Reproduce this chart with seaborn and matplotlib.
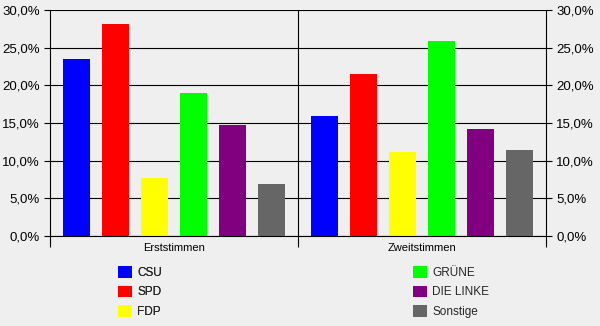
import matplotlib
matplotlib.use("Agg")
import matplotlib.pyplot as plt
import matplotlib.ticker as mticker
from matplotlib.patches import Patch
import seaborn as sns
import pandas as pd

groups = ["Erststimmen", "Zweitstimmen"]
parties = ["CSU", "SPD", "FDP", "GRÜNE", "DIE LINKE", "Sonstige"]
erststimmen = [23.5, 28.1, 7.7, 19.0, 14.7, 6.9]
zweitstimmen = [15.9, 21.5, 11.1, 25.9, 14.2, 11.4]
colors = ["#0000FF", "#FF0000", "#FFFF00", "#00FF00", "#800080", "#666666"]
yticks = [0, 5, 10, 15, 20, 25, 30]

df = pd.DataFrame({
    "Stimme": [groups[0]] * len(parties) + [groups[1]] * len(parties),
    "Partei": parties + parties,
    "Wert": erststimmen + zweitstimmen,
})

sns.set_style("white")
plt.rcParams["font.family"] = ["Liberation Sans", "DejaVu Sans"]
bg = "#EFEFEF"

fig = plt.figure(figsize=(6.0, 3.26), dpi=100, facecolor=bg)
ax = fig.add_axes([50 / 600, 90 / 326, 496 / 600, 226 / 326])
ax.set_facecolor(bg)

sns.barplot(data=df, x="Stimme", y="Wert", hue="Partei", hue_order=parties,
            palette=colors, order=groups, saturation=1, width=0.944, gap=0.31,
            linewidth=0, legend=False, ax=ax)

lw = 0.8
ax.set_xlim(-0.5, 1.5)
ax.set_ylim(0, 30)
ax.set_yticks(yticks)
ax.yaxis.set_major_formatter(mticker.FuncFormatter(lambda v, p: f"{v:.1f}".replace(".", ",") + "%"))
ax.yaxis.grid(True, color="black", linewidth=lw)
ax.set_axisbelow(True)
ax.axvline(0.5, color="black", linewidth=lw, zorder=0.5)
for s in ["left", "right", "bottom"]:
    ax.spines[s].set_visible(True)
    ax.spines[s].set_color("black")
    ax.spines[s].set_linewidth(lw)
ax.spines["top"].set_visible(False)

ax.tick_params(axis="y", which="major", left=True, right=True, labelleft=True, labelright=True,
               length=4.3, width=lw, color="black", pad=3, labelsize=9.5, labelcolor="black",
               direction="out")
ax.set_xticks([-0.5, 0.5, 1.5], minor=True)
ax.tick_params(axis="x", which="minor", bottom=True, length=8, width=lw, color="black", direction="out")
ax.tick_params(axis="x", which="major", bottom=False, length=0, pad=5, labelsize=8, labelcolor="black")
ax.set_xlabel("")
ax.set_ylabel("")

h = [Patch(facecolor=c, edgecolor="none") for c in colors]
kw = dict(loc="upper left", frameon=False, fontsize=8.5, handlelength=1.15, handleheight=1.15,
          handletextpad=0.45, labelspacing=0.55, borderpad=0.2)
leg1 = fig.legend(h[:3], parties[:3], bbox_to_anchor=(110 / 600, 1 - 258 / 326), **kw)
leg2 = fig.legend(h[3:], parties[3:], bbox_to_anchor=(405 / 600, 1 - 258 / 326), **kw)
fig.add_artist(leg1)

fig.savefig("out.png", dpi=100, facecolor=bg)
